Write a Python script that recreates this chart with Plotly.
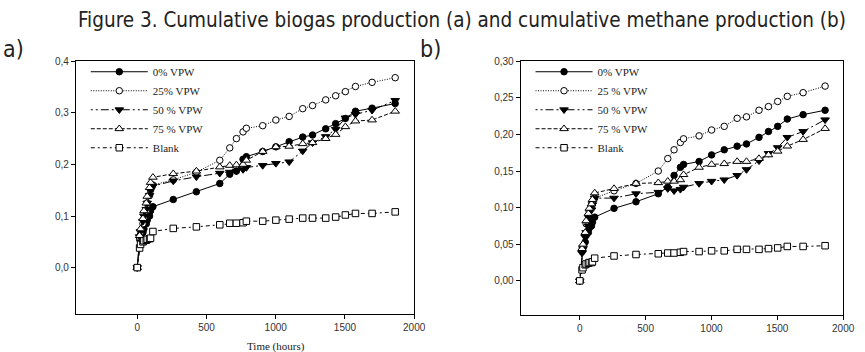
import plotly.graph_objects as go

# ---------------- data ----------------
time_h = [0, 17, 24, 41, 48, 65, 72, 89, 96, 113,
          260, 427, 596, 668, 716, 764, 788, 906, 1001, 1097,
          1195, 1266, 1361, 1433, 1503, 1576, 1696, 1863]

series_names_a = ["0% VPW", "25% VPW", "50 % VPW", "75 % VPW", "Blank"]
series_names_b = ["0% VPW", "25 % VPW", "50 % VPW", "75 % VPW", "Blank"]

# (a) cumulative biogas production
biogas_0 = [0, 0.055, 0.060, 0.068, 0.075, 0.085, 0.092, 0.100, 0.110, 0.118,
            0.132, 0.147, 0.163, 0.181, 0.187, 0.210, 0.215, 0.225, 0.234, 0.244,
            0.253, 0.257, 0.269, 0.279, 0.289, 0.303, 0.309, 0.318]
biogas_25 = [0, 0.058, 0.065, 0.085, 0.095, 0.110, 0.125, 0.140, 0.150, 0.160,
             0.170, 0.185, 0.208, 0.232, 0.250, 0.263, 0.270, 0.275, 0.286, 0.293,
             0.308, 0.314, 0.325, 0.333, 0.341, 0.351, 0.359, 0.368]
biogas_50 = [0, 0.060, 0.070, 0.090, 0.100, 0.113, 0.125, 0.140, 0.150, 0.158,
             0.168, 0.176, 0.183, 0.185, 0.187, 0.190, 0.194, 0.198, 0.202, 0.205,
             0.226, 0.242, 0.254, 0.268, 0.290, 0.297, 0.305, 0.324]
biogas_75 = [0, 0.062, 0.075, 0.095, 0.110, 0.125, 0.138, 0.155, 0.165, 0.175,
             0.182, 0.187, 0.195, 0.198, 0.199, 0.200, 0.208, 0.225, 0.234, 0.235,
             0.240, 0.242, 0.250, 0.258, 0.273, 0.284, 0.286, 0.303]
biogas_blank = [0, 0.038, 0.045, 0.050, 0.052, 0.053, 0.055, 0.056, 0.057, 0.070,
                0.076, 0.079, 0.083, 0.086, 0.086, 0.087, 0.090, 0.090, 0.092, 0.094,
                0.096, 0.096, 0.096, 0.098, 0.102, 0.105, 0.105, 0.108]

# (b) cumulative methane production
methane_0 = [0, 0.040, 0.045, 0.053, 0.062, 0.066, 0.072, 0.075, 0.080, 0.087,
             0.099, 0.108, 0.119, 0.128, 0.144, 0.155, 0.159, 0.163, 0.172, 0.179,
             0.184, 0.187, 0.196, 0.204, 0.211, 0.221, 0.227, 0.233]
methane_25 = [0, 0.042, 0.046, 0.062, 0.078, 0.088, 0.095, 0.102, 0.108, 0.113,
              0.123, 0.133, 0.150, 0.167, 0.179, 0.189, 0.194, 0.198, 0.206, 0.211,
              0.222, 0.224, 0.233, 0.238, 0.245, 0.252, 0.257, 0.266]
methane_50 = [0, 0.038, 0.044, 0.060, 0.066, 0.075, 0.086, 0.097, 0.104, 0.113,
              0.113, 0.119, 0.121, 0.126, 0.123, 0.125, 0.128, 0.133, 0.136, 0.138,
              0.144, 0.152, 0.164, 0.174, 0.182, 0.196, 0.204, 0.220]
methane_75 = [0, 0.044, 0.050, 0.066, 0.082, 0.092, 0.099, 0.105, 0.111, 0.120,
              0.126, 0.133, 0.134, 0.136, 0.136, 0.138, 0.145, 0.155, 0.159, 0.160,
              0.163, 0.163, 0.167, 0.172, 0.177, 0.184, 0.193, 0.208]
methane_blank = [0, 0.015, 0.018, 0.022, 0.023, 0.024, 0.025, 0.025, 0.026, 0.031,
                 0.034, 0.036, 0.037, 0.038, 0.038, 0.039, 0.040, 0.040, 0.041, 0.041,
                 0.043, 0.043, 0.043, 0.044, 0.045, 0.047, 0.047, 0.048]

x_ticks = [0, 500, 1000, 1500, 2000]
y_ticks_a = [0.0, 0.1, 0.2, 0.3, 0.4]
y_ticklabels_a = ["0,0", "0,1", "0,2", "0,3", "0,4"]
y_ticks_b = [0.0, 0.05, 0.10, 0.15, 0.20, 0.25, 0.30]
y_ticklabels_b = ["0,00", "0,05", "0,10", "0,15", "0,20", "0,25", "0,30"]

# ---------------- styles ----------------
styles = [
    dict(dash="solid", symbol="circle", fill="black", size=6.5),
    dict(dash="1px,1.5px", symbol="circle", fill="white", size=6.5),
    dict(dash="2px,3px,2px,3px,8px,3px", symbol="triangle-down", fill="black", size=7.5),
    dict(dash="4px,2px", symbol="triangle-up", fill="white", size=7.5),
    dict(dash="4px,3px,2px,3px", symbol="square", fill="white", size=6.5),
]

W, H = 865, 352
fig = go.Figure()

def add_series(ys_list, names, xa, ya, legend):
    for ys, name, st in zip(ys_list, names, styles):
        fig.add_trace(go.Scatter(
            x=time_h, y=ys, name=name, mode="lines+markers",
            xaxis=xa, yaxis=ya, legend=legend,
            line=dict(color="black", width=1, dash=st["dash"]),
            marker=dict(symbol=st["symbol"], size=st["size"], color=st["fill"],
                        line=dict(color="black", width=1)),
        ))

add_series([biogas_0, biogas_25, biogas_50, biogas_75, biogas_blank],
           series_names_a, "x", "y", "legend")
add_series([methane_0, methane_25, methane_50, methane_75, methane_blank],
           series_names_b, "x2", "y2", "legend2")

tickfont = dict(family="Liberation Sans, Arial, sans-serif", size=10, color="#333333")
axis_common = dict(showline=True, linecolor="black", linewidth=1, mirror=True,
                   ticks="outside", ticklen=4, tickcolor="black", tickwidth=1,
                   showgrid=False, zeroline=False, tickfont=tickfont)

legend_font = dict(family="Liberation Serif, Times New Roman, serif", size=11, color="#222222")

fig.update_layout(
    width=W, height=H,
    margin=dict(l=0, r=0, t=0, b=0),
    paper_bgcolor="white", plot_bgcolor="white",
    xaxis=dict(domain=[77 / W, 420 / W], range=[-443, 2000],
               tickvals=x_ticks, anchor="y", **axis_common),
    yaxis=dict(domain=[1 - 313 / H, 1 - 57 / H], range=[-0.089, 0.4],
               tickvals=y_ticks_a, ticktext=y_ticklabels_a, anchor="x", **axis_common),
    xaxis2=dict(domain=[528 / W, 855 / W], range=[-449, 2000],
                tickvals=x_ticks, anchor="y2", **axis_common),
    yaxis2=dict(domain=[1 - 314 / H, 1 - 57 / H], range=[-0.046, 0.30],
                tickvals=y_ticks_b, ticktext=y_ticklabels_b, anchor="x2", **axis_common),
    legend=dict(x=87 / W, y=1 - 53 / H, xanchor="left", yanchor="top", itemwidth=57,
                bgcolor="rgba(0,0,0,0)", font=legend_font, borderwidth=0),
    legend2=dict(x=538 / W, y=1 - 53 / H, xanchor="left", yanchor="top", itemwidth=57,
                 bgcolor="rgba(0,0,0,0)", font=legend_font, borderwidth=0),
    showlegend=True,
)

narrow = "Liberation Sans Narrow, DejaVu Sans Condensed, Arial Narrow, sans-serif"
fig.add_annotation(text="Figure 3. Cumulative biogas production (a) and cumulative methane production (b)",
                   xref="paper", yref="paper", x=469 / W, y=1 - 15 / H,
                   xanchor="center", yanchor="middle", showarrow=False,
                   font=dict(family=narrow, size=20.5, color="#222222"))
fig.add_annotation(text="a)", xref="paper", yref="paper", x=14 / W, y=1 - 45 / H,
                   xanchor="center", yanchor="middle", showarrow=False,
                   font=dict(family=narrow, size=23, color="#222222"))
fig.add_annotation(text="b)", xref="paper", yref="paper", x=437 / W, y=1 - 45 / H,
                   xanchor="center", yanchor="middle", showarrow=False,
                   font=dict(family=narrow, size=23, color="#222222"))
fig.add_annotation(text="Time (hours)", xref="x", yref="paper", x=1000, y=1 - 346 / H,
                   xanchor="center", yanchor="middle", showarrow=False,
                   font=dict(family="Liberation Serif, Times New Roman, serif", size=11, color="#222222"))

fig.write_html("out.html", config={"displayModeBar": False},
               post_script="document.body.style.margin='0px';")
